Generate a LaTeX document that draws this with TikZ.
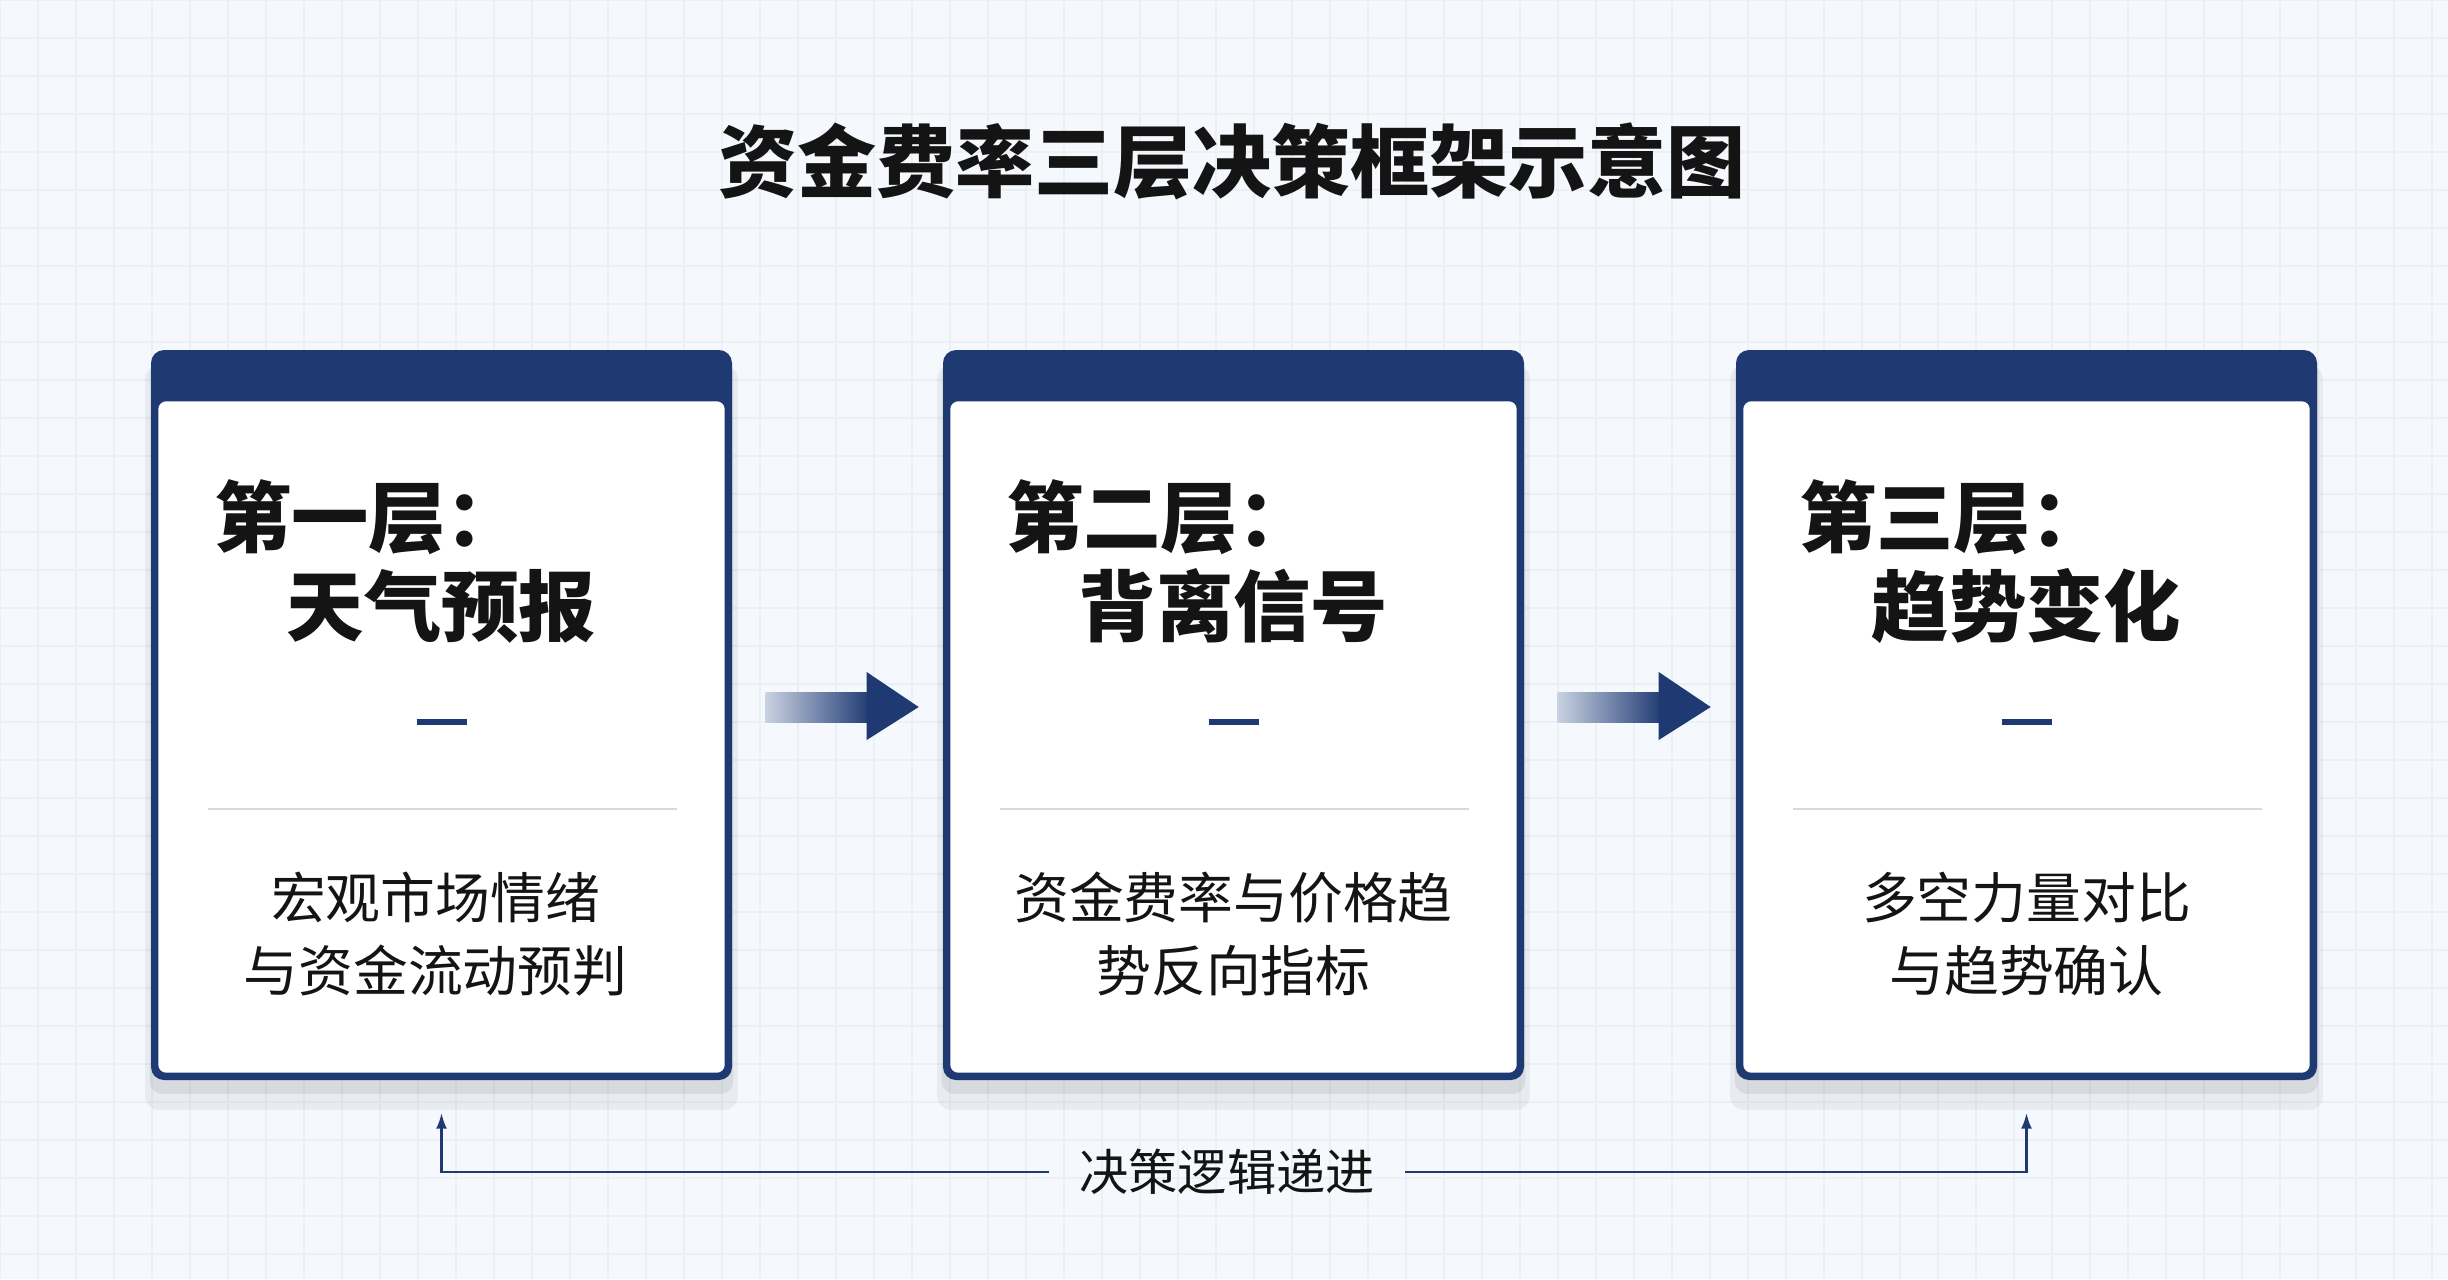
\documentclass[tikz,border=0pt]{standalone}
\usepackage{fontspec}
\setmainfont{Noto Sans CJK SC}
\usepackage{xcolor}
\usepackage{tikz}
\usetikzlibrary{positioning,calc,arrows.meta,shadows}
\definecolor{navy}{HTML}{1F3A73}
\definecolor{bgcol}{HTML}{F5F8FC}
\definecolor{gridcol}{HTML}{ECF0F5}
\definecolor{arrowlight}{HTML}{C9D2E2}
\definecolor{rulecol}{HTML}{D6D9DE}
\definecolor{inkcol}{HTML}{141414}

\begin{document}
\begin{tikzpicture}[x=0.1mm, y=-0.1mm,
    layerbox/.style={fill=navy, rounded corners=1.3mm, minimum width=58.1mm, minimum height=73mm, inner sep=0pt,
        drop shadow={shadow xshift=0mm, shadow yshift=-2.2mm, shadow scale=1.02, opacity=0.05, fill=black},
        drop shadow={shadow xshift=0mm, shadow yshift=-1.2mm, shadow scale=1.005, opacity=0.07, fill=black}},
    panel/.style={fill=white, rounded corners=0.8mm},
    tagtext/.style={font=\bfseries\fontsize{22}{26}\selectfont, text=inkcol, inner sep=0pt, anchor=west},
    nametext/.style={font=\bfseries\fontsize{22}{26}\selectfont, text=inkcol, inner sep=0pt},
    bodytext/.style={font=\fontsize{15.6}{21}\selectfont, text=inkcol, align=center, inner sep=0pt},
    flowlabel/.style={font=\fontsize{14}{17}\selectfont, text=inkcol, inner xsep=3mm, inner ysep=0pt},
    logicline/.style={draw=navy, line width=0.8pt, -{Latex[length=1.6mm,width=1.1mm]}, shorten >=3.2mm}]

    % background with faint grid
    \useasboundingbox (0,0) rectangle (2448,1279);
    \fill[bgcol] (0,0) rectangle (2448,1279);
    \draw[gridcol, line width=0.4pt, step=3.8mm] (0,0) grid (2448,1279);

    % title
    \node[font=\bfseries\fontsize{22.5}{27}\selectfont, text=inkcol] (title) at (1232,161) {资金费率三层决策框架示意图};

    % the three layers
    \node[layerbox] (layer1) at (441.5,715) {};
    \node[layerbox] (layer2) at (1233.5,715) {};
    \node[layerbox] (layer3) at (2026.5,715) {};
    \fill[panel] ($(layer1.north west)+(8,52)$) rectangle ($(layer1.south east)+(-8,-8)$);
    \fill[panel] ($(layer2.north west)+(8,52)$) rectangle ($(layer2.south east)+(-8,-8)$);
    \fill[panel] ($(layer3.north west)+(8,52)$) rectangle ($(layer3.south east)+(-8,-8)$);

    \node[tagtext] (l1tag) at ($(layer1.north west)+(63,168)$) {第一层：};
    \node[tagtext] (l2tag) at ($(layer2.north west)+(63,168)$) {第二层：};
    \node[tagtext] (l3tag) at ($(layer3.north west)+(63,168)$) {第三层：};
    \node[nametext] (l1name) at ($(layer1.center)+(0,-109)$) {天气预报};
    \node[nametext] (l2name) at ($(layer2.center)+(0,-109)$) {背离信号};
    \node[nametext] (l3name) at ($(layer3.center)+(0,-109)$) {趋势变化};

    \draw[navy, line width=1.7pt] ($(layer1.center)+(-25,7)$) -- ($(layer1.center)+(25,7)$);
    \draw[navy, line width=1.7pt] ($(layer2.center)+(-25,7)$) -- ($(layer2.center)+(25,7)$);
    \draw[navy, line width=1.7pt] ($(layer3.center)+(-25,7)$) -- ($(layer3.center)+(25,7)$);

    \draw[rulecol, line width=0.6pt] ($(layer1.west)+(58,94)$) -- ($(layer1.east)+(-56,94)$);
    \draw[rulecol, line width=0.6pt] ($(layer2.west)+(58,94)$) -- ($(layer2.east)+(-56,94)$);
    \draw[rulecol, line width=0.6pt] ($(layer3.west)+(58,94)$) -- ($(layer3.east)+(-56,94)$);

    \node[bodytext] (l1body) at ($(layer1.center)+(-6,219)$) {宏观市场情绪\\与资金流动预判};
    \node[bodytext] (l2body) at ($(layer2.center)+(0,219)$) {资金费率与价格趋\\势反向指标};
    \node[bodytext] (l3body) at ($(layer3.center)+(0,219)$) {多空力量对比\\与趋势确认};

    % block arrows between layers
    \shade[left color=arrowlight, right color=navy] ($(layer1.east)+(33,-23)$) rectangle ($(layer1.east)+(138,7)$);
    \fill[navy] ($(layer1.east)+(134,-43)$) -- ($(layer1.east)+(186,-8)$) -- ($(layer1.east)+(134,25)$) -- cycle;
    \shade[left color=arrowlight, right color=navy] ($(layer2.east)+(33,-23)$) rectangle ($(layer2.east)+(138,7)$);
    \fill[navy] ($(layer2.east)+(134,-43)$) -- ($(layer2.east)+(186,-8)$) -- ($(layer2.east)+(134,25)$) -- cycle;

    % decision logic
    \node[flowlabel] (logic) at (1227,1172) {决策逻辑递进};
    \draw[logicline] (logic.west) -| (layer1.south);
    \draw[logicline] (logic.east) -| (layer3.south);
\end{tikzpicture}
\end{document}
